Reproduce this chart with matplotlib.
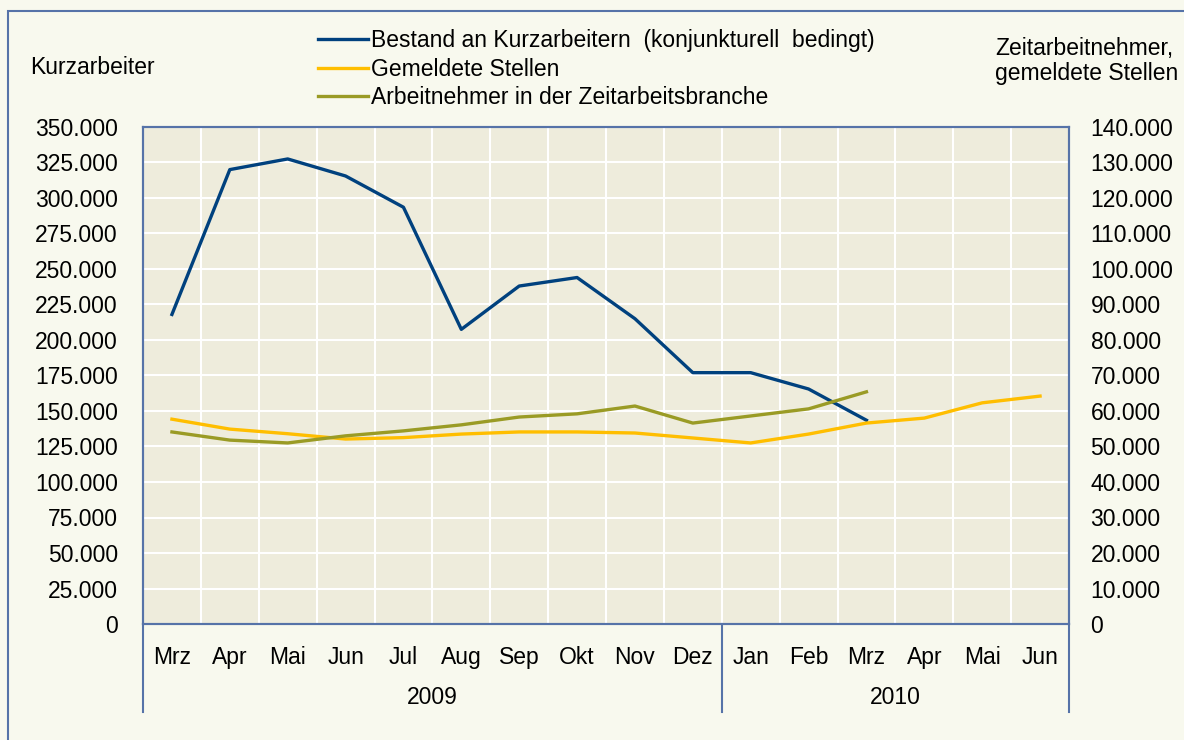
import numpy as np
import matplotlib
matplotlib.use("Agg")
import matplotlib.pyplot as plt
import matplotlib.transforms as mtransforms
from matplotlib.patches import Rectangle
from matplotlib.ticker import FuncFormatter, MultipleLocator

plt.rcParams["font.family"] = ["Liberation Sans", "DejaVu Sans"]

# ----------------------------
# Data
# ----------------------------
months = ["Mrz", "Apr", "Mai", "Jun", "Jul", "Aug", "Sep", "Okt", "Nov", "Dez",
          "Jan", "Feb", "Mrz", "Apr", "Mai", "Jun"]
years = ["2009", "2010"]
year_starts = [0, 10]

kurzarbeiter = [218000, 320000, 327500, 315500, 293500, 207500, 238000, 244000,
                215000, 177000, 177000, 165500, 143500]
gemeldete_stellen = [57700, 54900, 53600, 52100, 52500, 53500, 54100, 54100,
                     53800, 52400, 51000, 53500, 56600, 58000, 62300, 64200]
zeitarbeit = [54100, 51800, 51000, 53000, 54400, 56100, 58300, 59200,
              61400, 56600, 58600, 60600, 65400]

labels = ["Bestand an Kurzarbeitern  (konjunkturell  bedingt)",
          "Gemeldete Stellen",
          "Arbeitnehmer in der Zeitarbeitsbranche"]

c_blue = "#00417E"
c_gold = "#FFBE00"
c_olive = "#9A9B25"
c_frame = "#5673A8"
fig_bg = "#F8F9EE"
ax_bg = "#EEECDC"
fs = 16.5

W, H = 1184, 740
fig = plt.figure(figsize=(W / 100, H / 100), dpi=100, facecolor=fig_bg)

# outer frame (right and bottom edges lie outside the picture)
fig.patches.append(Rectangle((8 / W, -0.2), 1.2, 1.2 - 11 / H, transform=fig.transFigure,
                             fill=False, edgecolor=c_frame, linewidth=1.5))

x0, x1, ytop, ybot = 143, 1069, 127, 624
ax = fig.add_axes([x0 / W, (H - ybot) / H, (x1 - x0) / W, (ybot - ytop) / H])
ax.set_facecolor(ax_bg)
ax2 = ax.twinx()

n = len(months)
x = np.arange(n)

l1, = ax.plot(x[:len(kurzarbeiter)], kurzarbeiter, color=c_blue, lw=2.4, zorder=3)
l2, = ax2.plot(x, gemeldete_stellen, color=c_gold, lw=2.4)
l3, = ax2.plot(x[:len(zeitarbeit)], zeitarbeit, color=c_olive, lw=2.4)

fmt = FuncFormatter(lambda v, p: f"{int(v):,}".replace(",", "."))

ax.set_xlim(-0.5, n - 0.5)
ax.set_ylim(0, 350000)
ax.yaxis.set_major_locator(MultipleLocator(25000))
ax.yaxis.set_major_formatter(fmt)
ax2.set_ylim(0, 140000)
ax2.yaxis.set_major_locator(MultipleLocator(10000))
ax2.yaxis.set_major_formatter(fmt)

ax.set_xticks(x)
ax.set_xticklabels(months)
ax.set_xticks(np.arange(-0.5, n, 1), minor=True)
ax.tick_params(axis="x", which="both", length=0, pad=16, labelsize=fs)
ax.tick_params(axis="y", length=0, pad=18, labelsize=fs)
ax2.tick_params(axis="y", length=0, pad=15.5, labelsize=fs)

ax.grid(True, which="minor", axis="x", color="white", lw=1.5)
ax.grid(True, which="major", axis="y", color="white", lw=1.5)
ax.set_axisbelow(True)

for a in (ax, ax2):
    for s in a.spines.values():
        s.set_color(c_frame)
        s.set_linewidth(1.5)

# category axis: year separators and labels
trans = mtransforms.blended_transform_factory(ax.transData, ax.transAxes)
depth = -88 / (ybot - ytop)
for xs in [-0.5] + [s - 0.5 for s in year_starts[1:]] + [n - 0.5]:
    ax.plot([xs, xs], [0, depth], transform=trans, color=c_frame, lw=1.5, clip_on=False)
bounds = year_starts + [n]
for i, yr in enumerate(years):
    xc = (bounds[i] + bounds[i + 1] - 1) / 2
    ax.text(xc, -73 / (ybot - ytop), yr, transform=trans, ha="center", va="center", fontsize=fs)

# axis titles
fig.text(30 / W, 1 - 68 / H, "Kurzarbeiter", ha="left", va="center", fontsize=fs)
fig.text(995 / W, 1 - 61 / H, "Zeitarbeitnehmer,\ngemeldete Stellen", ha="left", va="center",
         fontsize=fs, linespacing=1.15)

fig.legend([l1, l2, l3], labels, loc="upper left", bbox_to_anchor=(318 / W, 1 - 29 / H),
           frameon=False, fontsize=fs, handlelength=2.2, handletextpad=0.1,
           labelspacing=0.25, borderpad=0, borderaxespad=0)

fig.savefig("out.png", dpi=100, facecolor=fig_bg)
